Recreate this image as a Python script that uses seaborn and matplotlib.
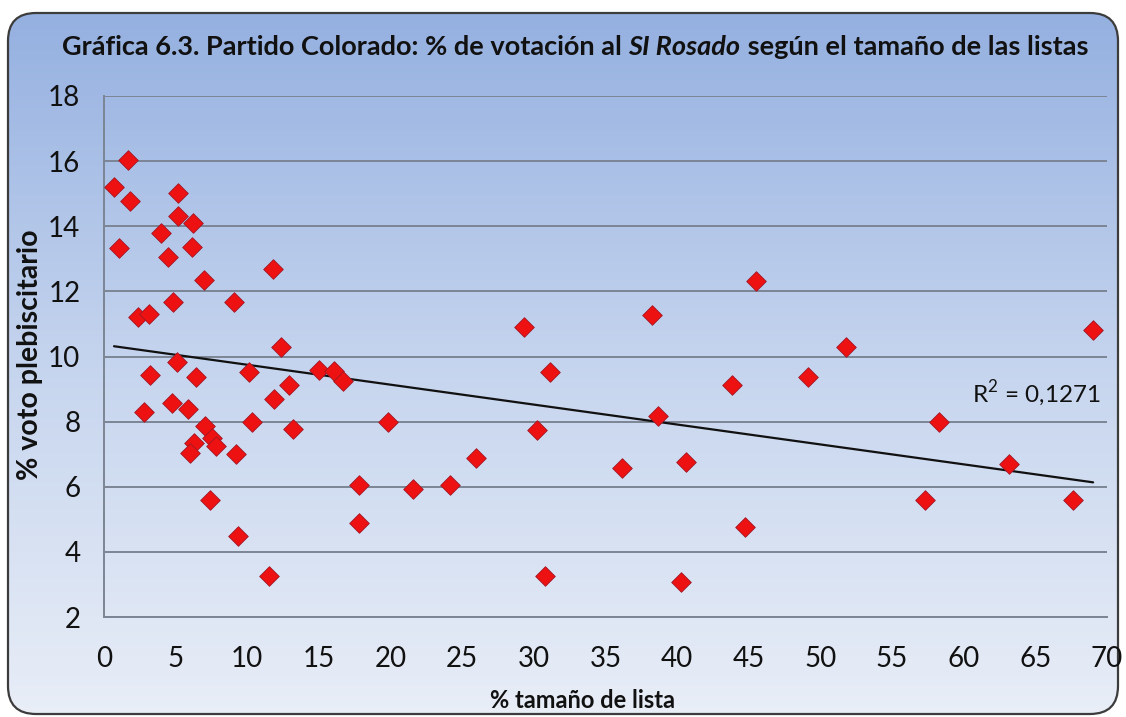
import matplotlib
matplotlib.use("Agg")
import matplotlib.pyplot as plt
from matplotlib.patches import FancyBboxPatch
from matplotlib.colors import LinearSegmentedColormap
import seaborn as sns
import pandas as pd
import numpy as np

# % tamaño de lista vs % voto plebiscitario
tamano = [1.68, 0.70, 1.82, 5.19, 5.19, 6.24, 3.99, 1.05, 6.17, 4.48, 11.77, 7.01,
          4.84, 9.04, 2.38, 3.15,
          12.33, 3.22, 5.12, 6.45, 10.09, 12.89, 11.84, 2.80, 4.77, 5.89, 10.30, 13.17,
          7.08, 6.31, 6.03, 7.57, 7.85, 9.18, 7.43, 9.32, 11.49,
          14.98, 16.05, 16.68, 19.83, 17.80, 17.80, 21.58, 24.18, 25.93, 29.29, 31.11,
          30.20,
          45.48, 38.26, 43.80, 38.68, 36.16, 40.64, 44.71, 30.76, 40.29,
          49.12, 51.79, 69.03, 58.30, 63.14, 57.32, 67.62]
voto = [16.03, 15.20, 14.77, 15.02, 14.31, 14.09, 13.78, 13.32, 13.35, 13.05, 12.68, 12.34,
        11.66, 11.66, 11.20, 11.29,
        10.28, 9.42, 9.82, 9.38, 9.51, 9.11, 8.71, 8.31, 8.58, 8.40, 8.00, 7.78,
        7.88, 7.35, 7.05, 7.51, 7.26, 7.02, 5.60, 4.49, 3.26,
        9.60, 9.54, 9.26, 8.00, 6.06, 4.89, 5.94, 6.06, 6.89, 10.92, 9.51,
        7.75,
        12.31, 11.26, 9.11, 8.18, 6.58, 6.77, 4.77, 3.26, 3.08,
        9.38, 10.28, 10.80, 8.00, 6.71, 5.60, 5.60]

x_ticks = list(range(0, 75, 5))
y_ticks = list(range(2, 20, 2))
r2_label = "R$^2$ = 0,1271"

df = pd.DataFrame({"tamano": tamano, "voto": voto})

sns.set_style("white")
fam = ["Lato", "DejaVu Sans"]
plt.rcParams["font.family"] = fam
plt.rcParams["mathtext.fontset"] = "custom"
plt.rcParams["mathtext.rm"] = "Lato"

W, H = 1126, 717
fig = plt.figure(figsize=(W / 100, H / 100), dpi=100)
fig.patch.set_facecolor("white")

# background gradient inside a rounded frame
ax_bg = fig.add_axes([0, 0, 1, 1], zorder=0)
ax_bg.set_xlim(0, W)
ax_bg.set_ylim(0, H)
ax_bg.axis("off")
cmap = LinearSegmentedColormap.from_list("bg", ["#e9eef7", "#c5d4ee", "#93afe0"])
grad = np.linspace(0, 1, 256).reshape(-1, 1)
im = ax_bg.imshow(grad, extent=[0, W, 0, H], aspect="auto", cmap=cmap, origin="lower")
frame = FancyBboxPatch((8, 3), 1110, 701, boxstyle="round,pad=0,rounding_size=28",
                       fc="none", ec="#3c3c3c", lw=1.6, transform=ax_bg.transData)
ax_bg.add_patch(frame)
im.set_clip_path(frame)

ax = fig.add_axes([104 / W, 100 / H, 1003 / W, 521 / H], zorder=1)
ax.patch.set_alpha(0)

sns.scatterplot(data=df, x="tamano", y="voto", marker="D", s=100, color="#ee1111",
                edgecolor="#a01828", linewidth=0.6, ax=ax, zorder=3)
sns.regplot(data=df, x="tamano", y="voto", scatter=False, ci=None, ax=ax,
            line_kws={"color": "#111111", "lw": 1.6, "zorder": 2})

ax.set_xlim(0, 70)
ax.set_ylim(2, 18)
ax.set_xticks(x_ticks)
ax.set_yticks(y_ticks)
ax.tick_params(length=0, labelsize=20, colors="#111111")
ax.tick_params(axis="x", pad=21)
ax.tick_params(axis="y", pad=17)
ax.grid(axis="y", color="#7c8594", lw=1.4)
ax.set_axisbelow(True)
for side in ["top", "right"]:
    ax.spines[side].set_visible(False)
for side in ["left", "bottom"]:
    ax.spines[side].set_color("#7c8594")
    ax.spines[side].set_linewidth(1.4)
ax.set_xlabel("")
ax.set_ylabel("")

ax.text(60.6, 8.85, r2_label, fontsize=17.5, va="center", ha="left", color="#111111")

fig.text(583 / W, 1 - 700 / H, "% tamaño de lista", ha="center", va="center",
         fontsize=17, fontweight="bold", color="#111111")
fig.text(30 / W, 1 - 355 / H, "% voto plebiscitario", ha="center", va="center",
         rotation=90, fontsize=20.5, fontweight="bold", color="#111111")

# title with italic fragment, sized to the reference width
parts = [("Gráfica 6.3. Partido Colorado: % de votación al ", "normal"),
         ("SI Rosado", "italic"),
         (" según el tamaño de las listas", "normal")]
fig.canvas.draw()
renderer = fig.canvas.get_renderer()
probe = 0
for txt, style in parts:
    t = fig.text(0, 0, txt, fontsize=20, fontweight="bold", style=style)
    probe += t.get_window_extent(renderer).width
    t.remove()
tsize = 20 * 1026 / probe
x0 = 62
ty = H - 47
for txt, style in parts:
    t = fig.text(x0 / W, ty / H, txt, fontsize=tsize, fontweight="bold", style=style,
                 va="center", ha="left", color="#111111")
    x0 += t.get_window_extent(renderer).width

fig.savefig("out.png", dpi=100)
